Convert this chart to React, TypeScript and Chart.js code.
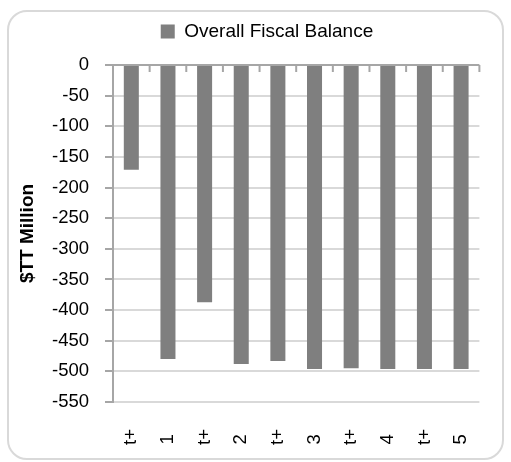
import React, { useEffect, useRef } from 'react';
import { Chart, registerables } from 'chart.js';

Chart.register(...registerables);

// ---- data ----
const categories: string[] = ['t+', '1', 't+', '2', 't+', '3', 't+', '4', 't+', '5'];
const fiscalBalance: number[] = [-171, -480, -387, -488, -483, -496, -495, -496, -496, -496];
const seriesLabel = 'Overall Fiscal Balance';
const yAxisTitle = '$TT Million';
const yMin = -550;
const yMax = 0;
const yStep = 50;

const FONT = "'Liberation Sans', Arial, sans-serif";
const BAR_COLOR = '#7f7f7f';
const AXIS_COLOR = '#a6a6a6';
const GRID_COLOR = '#d9d9d9';

const boundaryTicks = {
  id: 'boundaryTicks',
  afterDatasetsDraw(chart: any) {
    const xs = chart.scales.x;
    const ys = chart.scales.y;
    const ctx = chart.ctx;
    const y0 = ys.getPixelForValue(0);
    ctx.save();
    ctx.strokeStyle = AXIS_COLOR;
    ctx.lineWidth = 2;
    for (let i = 0; i <= categories.length; i++) {
      const px = xs.getPixelForValue(i - 0.5);
      ctx.beginPath();
      ctx.moveTo(px, y0);
      ctx.lineTo(px, y0 + 7);
      ctx.stroke();
    }
    ctx.restore();
  },
};

export default function App() {
  const ref = useRef<HTMLCanvasElement | null>(null);

  useEffect(() => {
    if (!ref.current) return;
    const chart = new Chart(ref.current, {
      type: 'bar',
      data: {
        labels: categories,
        datasets: [
          {
            label: seriesLabel,
            data: fiscalBalance,
            backgroundColor: BAR_COLOR,
            borderWidth: 0,
            barPercentage: 0.41,
            categoryPercentage: 1,
          },
        ],
      },
      options: {
        animation: false,
        responsive: false,
        maintainAspectRatio: false,
        layout: { padding: { left: 37.5, right: 14.5, top: 11, bottom: 17 } },
        plugins: {
          legend: {
            display: true,
            position: 'top',
            labels: {
              boxWidth: 14,
              boxHeight: 14,
              color: '#000',
              padding: 11,
              font: { family: FONT, size: 19 },
            },
          },
          // empty spacer box between legend and plot
          title: {
            display: true,
            text: '',
            position: 'top',
            weight: 500,
            font: { size: 1, lineHeight: 1 },
            padding: { top: 13, bottom: 0 },
          },
          tooltip: { enabled: false },
        },
        scales: {
          x: {
            offset: true,
            grid: { display: false, drawTicks: false },
            border: { display: false },
            ticks: {
              minRotation: 90,
              maxRotation: 90,
              autoSkip: false,
              padding: 27,
              color: '#000',
              font: { family: FONT, size: 18.5 },
              callback: (_v: any, i: number) => {
                const l = categories[i];
                return /\d/.test(l) ? l + ' ' : l;
              },
            },
            afterFit: (s: any) => {
              s.height = 43;
            },
          },
          y: {
            min: yMin,
            max: yMax,
            ticks: {
              stepSize: yStep,
              autoSkip: false,
              padding: 16,
              color: '#000',
              font: { family: FONT, size: 18.5 },
            },
            grid: {
              color: (c: any) => (c.tick && c.tick.value === 0 ? AXIS_COLOR : GRID_COLOR),
              lineWidth: 2,
              tickColor: AXIS_COLOR,
              tickLength: 8,
            },
            border: { color: AXIS_COLOR, width: 2 },
            title: {
              display: true,
              text: yAxisTitle,
              color: '#000',
              font: { family: FONT, size: 19, weight: 'bold' },
              padding: { top: -21, bottom: 0 },
            },
            afterFit: (s: any) => {
              s.width = 75.5;
            },
          },
        },
      },
      plugins: [boundaryTicks],
    } as any);
    return () => chart.destroy();
  }, []);

  return (
    <div style={{ position: 'absolute', left: 0, top: 0, width: 511, height: 462 }}>
      <div
        style={{
          position: 'absolute',
          left: 7,
          top: 10,
          width: 497,
          height: 450,
          border: '2px solid #d9d9d9',
          borderRadius: 20,
          boxSizing: 'border-box',
        }}
      />
      <canvas
        ref={ref}
        width={511}
        height={462}
        style={{ position: 'absolute', left: 0, top: 0, width: 511, height: 462, display: 'block' }}
      />
    </div>
  );
}
